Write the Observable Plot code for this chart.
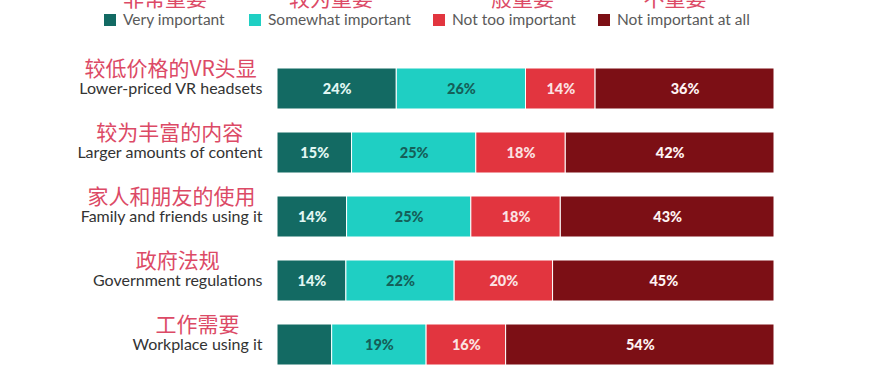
<!DOCTYPE html>
<html><head><meta charset="utf-8">
<script src="https://cdn.jsdelivr.net/npm/d3@7"></script>
<script src="https://cdn.jsdelivr.net/npm/@observablehq/plot@0.6"></script>
<style>
body{margin:0;background:#fff;overflow:hidden}
#wrap{position:relative;width:883px;height:373px;overflow:hidden;background:#fff}
#legend{position:relative;height:40px;width:883px}
.sw{position:absolute;top:14px;width:12px;height:12px}
.lt{position:absolute;top:12px;font:15.5px Lato;line-height:15px;color:#5a5a5a;white-space:nowrap}
.zh{position:absolute;top:-13px;font:21px "Noto Sans CJK SC";line-height:21px;color:#dc4a66;transform:translateX(-50%);white-space:nowrap}
svg{display:block}
</style>
</head><body>
<div id="wrap"><div id="legend"></div><div id="chart"></div></div>
<script>
const categoriesEn = ["Lower-priced VR headsets","Larger amounts of content","Family and friends using it","Government regulations","Workplace using it"];
const categoriesZh = ["较低价格的VR头显","较为丰富的内容","家人和朋友的使用","政府法规","工作需要"];
const seriesEn = ["Very important","Somewhat important","Not too important","Not important at all"];
const seriesZh = ["非常重要","较为重要","一般重要","不重要"];
const veryImportant     = [24,15,14,14,11];
const somewhatImportant = [26,25,25,22,19];
const notTooImportant   = [14,18,18,20,16];
const notImportantAtAll = [36,42,43,45,54];
const veryImportantLabels     = ["24%","15%","14%","14%",""];
const somewhatImportantLabels = ["26%","25%","25%","22%","19%"];
const notTooImportantLabels   = ["14%","18%","18%","20%","16%"];
const notImportantAtAllLabels = ["36%","42%","43%","45%","54%"];

const colors = ["#136a63","#1fcfc3","#e2353f","#7c0f15"];
const textColors = ["#e2f7f3","#155f59","#fbe2e3","#fff3f3"];

const seriesValues = [veryImportant, somewhatImportant, notTooImportant, notImportantAtAll];
const seriesLabels = [veryImportantLabels, somewhatImportantLabels, notTooImportantLabels, notImportantAtAllLabels];
const data = [];
categoriesEn.forEach((c, i) => {
  seriesEn.forEach((s, j) => {
    data.push({category: c, series: s, value: seriesValues[j][i], label: seriesLabels[j][i]});
  });
});

// legend (HTML)
const legend = document.getElementById("legend");
const swX = [104, 249, 433, 598];
const zhX = [165, 331, 512, 675];
seriesEn.forEach((s, j) => {
  const sw = document.createElement("div");
  sw.className = "sw"; sw.style.left = swX[j] + "px"; sw.style.background = colors[j];
  legend.appendChild(sw);
  const t = document.createElement("div");
  t.className = "lt"; t.style.left = (swX[j] + 19) + "px"; t.textContent = s;
  legend.appendChild(t);
  const z = document.createElement("div");
  z.className = "zh"; z.style.left = zhX[j] + "px"; z.textContent = seriesZh[j];
  legend.appendChild(z);
});

const ctx = document.createElement("canvas").getContext("2d");
ctx.font = "16px Lato";
const enWidth = categoriesEn.map(t => ctx.measureText(t).width);

const stackOpts = {offset: "normalize", x: "value", y: "category", z: "series"};

const plot = Plot.plot({
  width: 883, height: 333,
  marginLeft: 277, marginRight: 109, marginTop: 27, marginBottom: 7,
  x: {axis: null, domain: [0, 1]},
  y: {axis: null, domain: categoriesEn, paddingInner: 0.364, paddingOuter: 0},
  color: {domain: seriesEn, range: colors},
  marks: [
    Plot.barX(data, Plot.stackX({...stackOpts, fill: "series", stroke: "white", strokeWidth: 1})),
    ...seriesEn.map((s, j) => Plot.text(data, Plot.stackX({...stackOpts,
      text: d => d.series === s ? d.label : null,
      fill: textColors[j], fontWeight: 900, fontSize: 14.5, fontFamily: "Lato"}))),
    Plot.text(categoriesEn, {y: d => d, text: d => d, frameAnchor: "left", dx: -15, textAnchor: "end",
      fontSize: 16, fontFamily: "Lato", fill: "#333"}),
    ...categoriesEn.map((c, i) => Plot.text([c], {y: d => d, text: () => categoriesZh[i], frameAnchor: "left",
      dx: -(15 + enWidth[i] / 2), dy: -19.5, textAnchor: "middle",
      fontSize: 21, fontFamily: "Noto Sans CJK SC", fill: "#dc4a66"}))
  ]
});
document.getElementById("chart").appendChild(plot);
</script>
</body></html>
